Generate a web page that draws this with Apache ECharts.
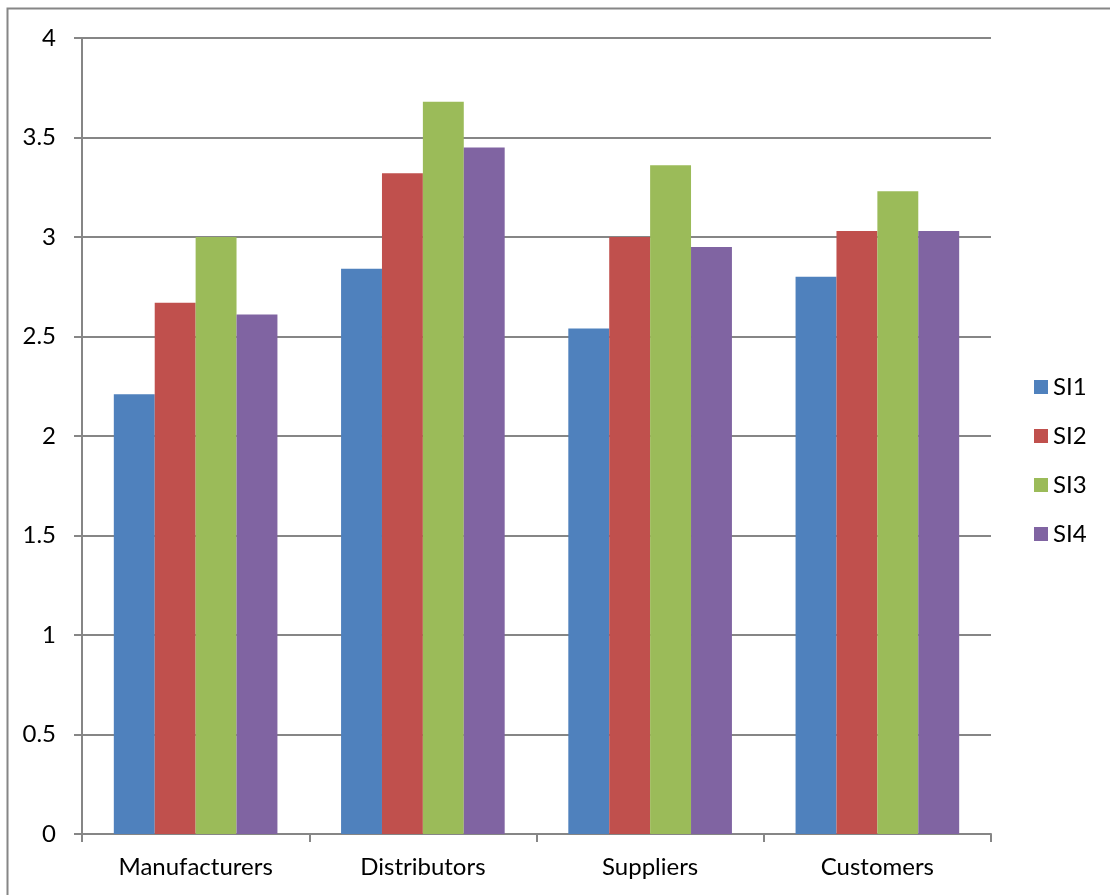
<!DOCTYPE html>
<html>
<head>
<meta charset="utf-8">
<script src="https://cdn.jsdelivr.net/npm/echarts@6/dist/echarts.min.js"></script>
<style>
html,body{margin:0;padding:0;background:#fff;}
#c{width:1110px;height:895px;}
</style>
</head>
<body>
<div id="c"></div>
<script>
var categories = ['Manufacturers', 'Distributors', 'Suppliers', 'Customers'];
var seriesNames = ['SI1', 'SI2', 'SI3', 'SI4'];
var si1 = [2.21, 2.84, 2.54, 2.80];
var si2 = [2.67, 3.32, 3.00, 3.03];
var si3 = [3.00, 3.68, 3.36, 3.23];
var si4 = [2.61, 3.45, 2.95, 3.03];
var colors = ['#4F81BD', '#C0504D', '#9BBB59', '#8064A2'];

var seriesData = [si1, si2, si3, si4];
var FONT = 'Lato, "Open Sans", sans-serif';
var FS = 24;
var chart = echarts.init(document.getElementById('c'), null, {renderer: 'canvas'});
chart.setOption({
  animation: false,
  backgroundColor: '#fff',
  color: colors,
  graphic: [{
    type: 'rect',
    shape: {x: 7.5, y: 8.5, width: 1200, height: 1000},
    style: {fill: 'none', stroke: '#868686', lineWidth: 2},
    silent: true
  }],
  grid: {left: 82, right: 119, top: 38, bottom: 61, containLabel: false},
  legend: {
    orient: 'vertical',
    left: 1029,
    top: 370,
    itemWidth: 14,
    itemHeight: 14,
    itemGap: 25,
    icon: 'rect',
    textStyle: {fontFamily: FONT, fontSize: FS, lineHeight: 24, color: '#000'},
    data: seriesNames
  },
  xAxis: {
    type: 'category',
    data: categories,
    axisLine: {lineStyle: {color: '#868686', width: 2}},
    axisTick: {show: true, length: 8, alignWithLabel: false, lineStyle: {color: '#868686', width: 2}},
    axisLabel: {fontFamily: FONT, fontSize: FS, color: '#000', margin: 21}
  },
  yAxis: {
    type: 'value',
    min: 0, max: 4, interval: 0.5,
    axisLine: {show: true, lineStyle: {color: '#868686', width: 2}},
    axisTick: {show: true, length: 8, lineStyle: {color: '#868686', width: 2}},
    splitLine: {lineStyle: {color: '#868686', width: 2}},
    axisLabel: {fontFamily: FONT, fontSize: FS, color: '#000', margin: 26}
  },
  series: seriesNames.map(function (n, i) {
    return {
      name: n,
      type: 'bar',
      data: seriesData[i],
      barGap: '0%',
      barCategoryGap: '28%',
      itemStyle: {color: colors[i]}
    };
  })
});
</script>
</body>
</html>
